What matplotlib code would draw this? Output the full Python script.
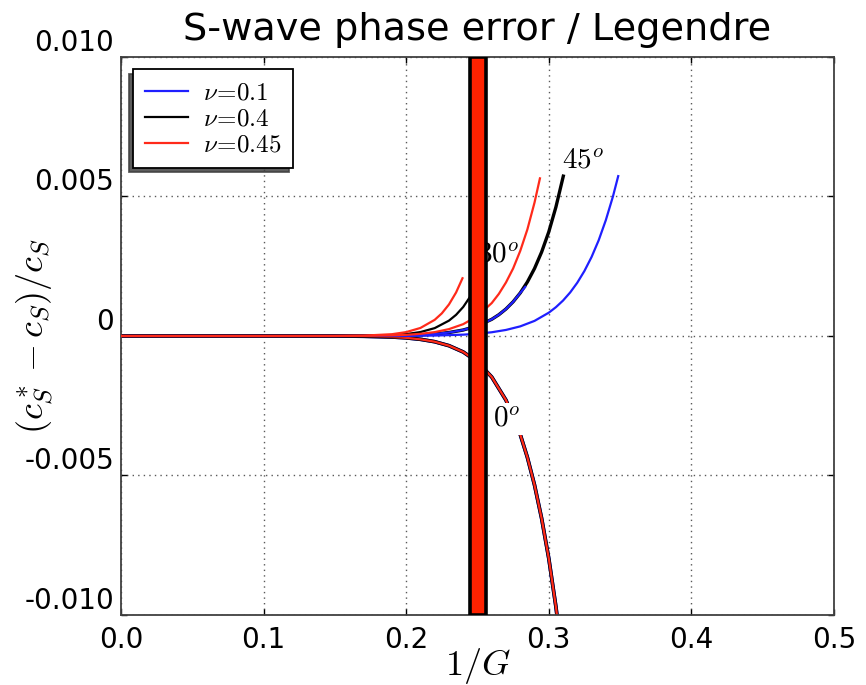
import matplotlib
matplotlib.use('Agg')
import matplotlib.pyplot as plt

plt.rcParams['mathtext.fontset'] = 'cm'
plt.rcParams['font.family'] = ['DejaVu Sans']

# ---------------- data ----------------
# 0 degree curves (identical for all nu)
x_0deg = [0.0, 0.05, 0.10, 0.15, 0.17, 0.19, 0.20, 0.21, 0.22, 0.23, 0.24, 0.25,
          0.26, 0.27, 0.28, 0.285, 0.29, 0.295, 0.30, 0.305, 0.31]
y_0deg = [0.0, 0.0, 0.0, -0.000002, -0.0000098, -0.0000364, -0.0000667, -0.000119,
          -0.000205, -0.000347, -0.000573, -0.000927, -0.00147, -0.00230, -0.00353,
          -0.00435, -0.00534, -0.00654, -0.00797, -0.00970, -0.01174]

# 30 degree curves
x_30_blue = [0.0, 0.05, 0.10, 0.15, 0.17, 0.19, 0.20, 0.21, 0.22, 0.23, 0.24, 0.25,
             0.26, 0.265, 0.27, 0.275, 0.28, 0.2835]
y_30_blue = [0.0, 0.0, 0.0, 0.0000005, 0.0000026, 0.0000108, 0.0000208, 0.0000389,
             0.0000705, 0.000124, 0.000215, 0.000362, 0.000598, 0.000763, 0.000969,
             0.001226, 0.001543, 0.00176]
x_30_black = [0.0, 0.05, 0.10, 0.15, 0.17, 0.19, 0.20, 0.21, 0.22, 0.23, 0.235,
              0.24, 0.245, 0.25, 0.2527]
y_30_black = [0.0, 0.0, 0.0, 0.0000009, 0.0000059, 0.0000313, 0.0000676, 0.000141,
              0.000282, 0.000550, 0.000759, 0.00104, 0.00142, 0.00192, 0.00226]
x_30_red = [0.0, 0.05, 0.10, 0.15, 0.17, 0.19, 0.20, 0.21, 0.22, 0.225, 0.23,
            0.235, 0.2395]
y_30_red = [0.0, 0.0, 0.0, 0.0000019, 0.0000121, 0.0000642, 0.000139, 0.000288,
            0.000579, 0.000811, 0.00113, 0.00156, 0.00207]

# 45 degree curves
x_45_blue = [0.0, 0.05, 0.10, 0.15, 0.20, 0.22, 0.24, 0.25, 0.26, 0.27, 0.28, 0.29,
             0.30, 0.305, 0.31, 0.315, 0.32, 0.325, 0.33, 0.335, 0.34, 0.345, 0.3487]
y_45_blue = [0.0, 0.0, 0.0, 0.0, 0.0000046, 0.0000158, 0.000048, 0.000081, 0.000134,
             0.000217, 0.000345, 0.000541, 0.000835, 0.001032, 0.00127, 0.00156,
             0.00191, 0.00233, 0.00283, 0.00343, 0.00415, 0.00500, 0.00573]
x_45_black = [0.0, 0.05, 0.10, 0.15, 0.17, 0.19, 0.20, 0.21, 0.22, 0.23, 0.24, 0.25,
              0.26, 0.265, 0.27, 0.275, 0.28, 0.285, 0.29, 0.295, 0.30, 0.305, 0.3102]
y_45_black = [0.0, 0.0, 0.0, 0.0000005, 0.0000026, 0.0000108, 0.0000208, 0.0000389,
              0.0000705, 0.000124, 0.000215, 0.000362, 0.000598, 0.000763, 0.000969,
              0.001226, 0.001543, 0.001936, 0.002418, 0.00301, 0.00373, 0.00462,
              0.00573]
x_45_red = [0.0, 0.05, 0.10, 0.15, 0.17, 0.19, 0.20, 0.21, 0.22, 0.23, 0.24, 0.25,
            0.26, 0.265, 0.27, 0.275, 0.28, 0.285, 0.29, 0.2938]
y_45_red = [0.0, 0.0, 0.0, 0.000001, 0.0000051, 0.0000213, 0.0000411, 0.0000768,
            0.000139, 0.000246, 0.000424, 0.000715, 0.00118, 0.00151, 0.00192,
            0.00242, 0.00305, 0.00382, 0.00478, 0.00565]

legend_labels = [r'$\nu\!=\!0.1$', r'$\nu\!=\!0.4$', r'$\nu\!=\!0.45$']
colors = ['#1f1fff', 'black', '#ff2a1a']

bar_left, bar_right = 0.2447, 0.2560

x_ticks = [0.0, 0.1, 0.2, 0.3, 0.4, 0.5]
x_ticklabels = ['0.0', '0.1', '0.2', '0.3', '0.4', '0.5']
y_ticks = [-0.010, -0.005, 0.0, 0.005, 0.010]
y_ticklabels = ['-0.010', '-0.005', '0', '0.005', '0.010']

# ---------------- figure ----------------
fig = plt.figure(figsize=(8.66, 6.85), dpi=100)
ax = fig.add_axes([0.1397, 0.1022, 0.8233, 0.8146])

lw = 1.6
# 0 degree (overlapping)
ax.plot(x_0deg, y_0deg, color=colors[0], lw=lw + 1.0, zorder=2)
ax.plot(x_0deg, y_0deg, color=colors[1], lw=lw + 1.0, zorder=2.1)
ax.plot(x_0deg, y_0deg, color=colors[2], lw=lw, zorder=2.2)
# 45 degree
ax.plot(x_45_black, y_45_black, color=colors[1], lw=lw + 0.8, zorder=2.3)
ax.plot(x_45_blue, y_45_blue, color=colors[0], lw=lw, zorder=2.3)
# 30 degree
ax.plot(x_30_black, y_30_black, color=colors[1], lw=lw, zorder=2.4)
ax.plot(x_30_blue, y_30_blue, color=colors[0], lw=lw, zorder=2.5)
# red curves on top
ax.plot(x_45_red, y_45_red, color=colors[2], lw=lw, zorder=2.6)
ax.plot(x_30_red, y_30_red, color=colors[2], lw=lw, zorder=2.6)

# legend proxies
handles = [ax.plot([], [], color=c, lw=lw)[0] for c in colors]

ax.axvspan(bar_left, bar_right, facecolor='#ff2200', edgecolor='black', lw=2.6, zorder=6)

tkw = dict(fontsize=21, color='black')
ax.text(0.309, 0.0060, r'$45^o$', ha='left', va='baseline', zorder=4, **tkw)
ax.text(0.2500, 0.00265, r'$30^o$', ha='left', va='baseline', zorder=4, **tkw)
ax.text(0.2609, -0.00326, r'$0^o$', ha='left', va='baseline', zorder=4,
        bbox=dict(facecolor='white', edgecolor='none', pad=1.5), **tkw)

ax.set_xlim(0.0, 0.5)
ax.set_ylim(-0.010, 0.010)
ax.set_xticks(x_ticks)
ax.set_xticklabels(x_ticklabels)
ax.set_yticks(y_ticks)
ax.set_yticklabels(y_ticklabels)
for lab in ax.get_yticklabels():
    lab.set_va('bottom')

ax.tick_params(direction='in', length=4, width=1, top=True, right=True,
               labelsize=20, colors='black')
ax.tick_params(axis='x', pad=8)
ax.tick_params(axis='y', pad=5)

ax.grid(True, color='0.35', linestyle=(0, (1, 3)), lw=1.0)
ax.set_axisbelow(True)
for sp in ax.spines.values():
    sp.set_color('0.25')
    sp.set_linewidth(1.3)

ax.set_title('S-wave phase error / Legendre', fontsize=27.5, pad=12)
ax.set_xlabel(r'$1/G$', fontsize=26)
ax.xaxis.set_label_coords(0.5, -0.056)
ax.set_ylabel(r'$(c^*_S - c_S)/c_S$', fontsize=26)
ax.yaxis.set_label_coords(-0.091, 0.5)

leg = ax.legend(handles, legend_labels, loc='upper left', fontsize=18,
                fancybox=False, shadow={'ox': -3, 'oy': -3, 'shade': 0.75, 'alpha': 0.85},
                framealpha=1, edgecolor='black', handlelength=1.75, borderaxespad=0.5,
                labelspacing=0.08, borderpad=0.45, handletextpad=0.6)
leg.get_frame().set_linewidth(1.3)
leg.set_zorder(10)

fig.savefig('out.png', dpi=100)
